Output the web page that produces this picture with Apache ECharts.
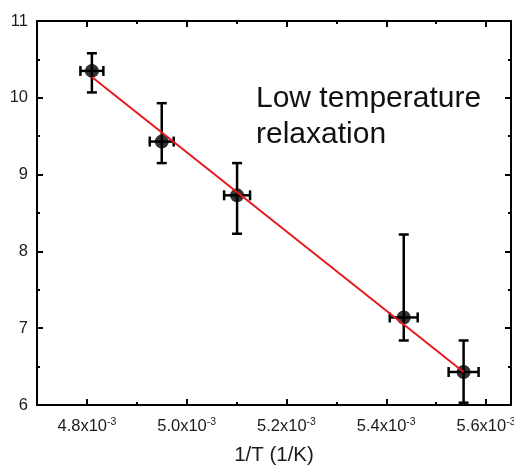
<!DOCTYPE html>
<html><head><meta charset="utf-8">
<script src="https://cdn.jsdelivr.net/npm/echarts@6/dist/echarts.min.js"></script>
<style>html,body{margin:0;padding:0;background:#fff}#c{width:514px;height:466px}</style>
</head><body><div id="c"></div>
<script>
// Data (1/T in 1/K, y value)
const invT = [4.810e-3, 4.950e-3, 5.101e-3, 5.435e-3, 5.555e-3];
const yVal = [10.35, 9.43, 8.73, 7.14, 6.43];
const yErrLow = [10.07, 9.15, 8.23, 6.84, 6.03];
const yErrHigh = [10.58, 9.93, 9.15, 8.22, 6.84];
const xErr = [0.023e-3, 0.024e-3, 0.026e-3, 0.028e-3, 0.030e-3];
const fitX = [4.810e-3, 5.555e-3];
const fitY = [10.27, 6.43];
const xMajorTicks = [4.8e-3, 5.0e-3, 5.2e-3, 5.4e-3, 5.6e-3];
const xMinorTicks = [4.9e-3, 5.1e-3, 5.3e-3, 5.5e-3];
const annotation = ['Low temperature', 'relaxation'];
const xTitle = '1/T (1/K)';

const FONT = '"Liberation Sans", Arial, Helvetica, sans-serif';
const chart = echarts.init(document.getElementById('c'), null, {renderer: 'canvas'});

const points = invT.map((x, i) => [x, yVal[i]]);
const errData = invT.map((x, i) => [x, yVal[i], yErrLow[i], yErrHigh[i], x - xErr[i], x + xErr[i]]);
const fitData = fitX.map((x, i) => [x, fitY[i]]);

const axisLineStyle = {color: '#000', width: 2};
function xAxisDef(pos, ticks, len, showLine, showLabel) {
  return {
    type: 'value', position: pos, min: 4.70e-3, max: 5.65e-3,
    axisLine: {show: showLine, onZero: false, lineStyle: axisLineStyle},
    axisTick: {show: true, inside: true, length: len, customValues: ticks, lineStyle: {color: '#000', width: 2}},
    axisLabel: showLabel ? {
      show: true, customValues: ticks, margin: 12, hideOverlap: false,
      formatter: v => '{a|' + (v * 1e3).toFixed(1) + 'x10}{b|-3}',
      rich: {
        a: {fontFamily: FONT, fontSize: 16.5, color: '#1a1a1a', lineHeight: 19},
        b: {fontFamily: FONT, fontSize: 10.5, color: '#1a1a1a', lineHeight: 10, verticalAlign: 'top'}
      }
    } : {show: false},
    splitLine: {show: false},
    name: showLabel ? xTitle : '', nameLocation: 'middle', nameGap: 40,
    nameTextStyle: {fontFamily: FONT, fontSize: 20.5, color: '#1a1a1a'}
  };
}
function yAxisDef(pos, showLabel) {
  return {
    type: 'value', position: pos, min: 6, max: 11, interval: 1,
    axisLine: {show: true, onZero: false, lineStyle: axisLineStyle},
    axisTick: {show: true, inside: true, length: 6, lineStyle: {color: '#000', width: 2}},
    minorTick: {show: true, splitNumber: 2, length: 3, lineStyle: {color: '#000', width: 2}},
    axisLabel: {show: showLabel, fontFamily: FONT, fontSize: 16.5, color: '#1a1a1a', margin: 9},
    splitLine: {show: false}, minorSplitLine: {show: false}
  };
}

chart.setOption({
  animation: false,
  backgroundColor: '#fff',
  grid: {left: 37, right: 3, top: 21, bottom: 61, containLabel: false, outerBoundsMode: 'none'},
  xAxis: [
    xAxisDef('bottom', xMajorTicks, 6, true, true),
    xAxisDef('bottom', xMinorTicks, 3, false, false),
    xAxisDef('top', xMajorTicks, 6, true, false),
    xAxisDef('top', xMinorTicks, 3, false, false)
  ],
  yAxis: [yAxisDef('left', true), yAxisDef('right', false)],
  graphic: [{
    type: 'text', left: 256, top: 81, z: 100,
    style: {text: annotation.join('\n'), font: '30px ' + FONT, fill: '#111', lineHeight: 36}
  }],
  series: [
    {
      type: 'custom', xAxisIndex: 0, yAxisIndex: 0, z: 2,
      renderItem: function (params, api) {
        const x = api.value(0), y = api.value(1);
        const pLow = api.coord([x, api.value(2)]);
        const pHigh = api.coord([x, api.value(3)]);
        const pL = api.coord([api.value(4), y]);
        const pR = api.coord([api.value(5), y]);
        const c = 5;
        const st = {stroke: '#000', lineWidth: 2.5};
        return {type: 'group', children: [
          {type: 'line', shape: {x1: pLow[0], y1: pLow[1], x2: pHigh[0], y2: pHigh[1]}, style: st},
          {type: 'line', shape: {x1: pLow[0] - c, y1: pLow[1], x2: pLow[0] + c, y2: pLow[1]}, style: st},
          {type: 'line', shape: {x1: pHigh[0] - c, y1: pHigh[1], x2: pHigh[0] + c, y2: pHigh[1]}, style: st},
          {type: 'line', shape: {x1: pL[0], y1: pL[1], x2: pR[0], y2: pR[1]}, style: st},
          {type: 'line', shape: {x1: pL[0], y1: pL[1] - c, x2: pL[0], y2: pL[1] + c}, style: st},
          {type: 'line', shape: {x1: pR[0], y1: pR[1] - c, x2: pR[0], y2: pR[1] + c}, style: st}
        ]};
      },
      data: errData
    },
    {
      type: 'scatter', xAxisIndex: 0, yAxisIndex: 0, z: 3, data: points,
      symbol: 'circle', symbolSize: 14, itemStyle: {color: '#000'}
    },
    {
      type: 'line', xAxisIndex: 0, yAxisIndex: 0, z: 4, data: fitData,
      showSymbol: false, symbol: 'none', lineStyle: {color: '#e8191e', width: 2}
    }
  ]
});
</script>
</body></html>
